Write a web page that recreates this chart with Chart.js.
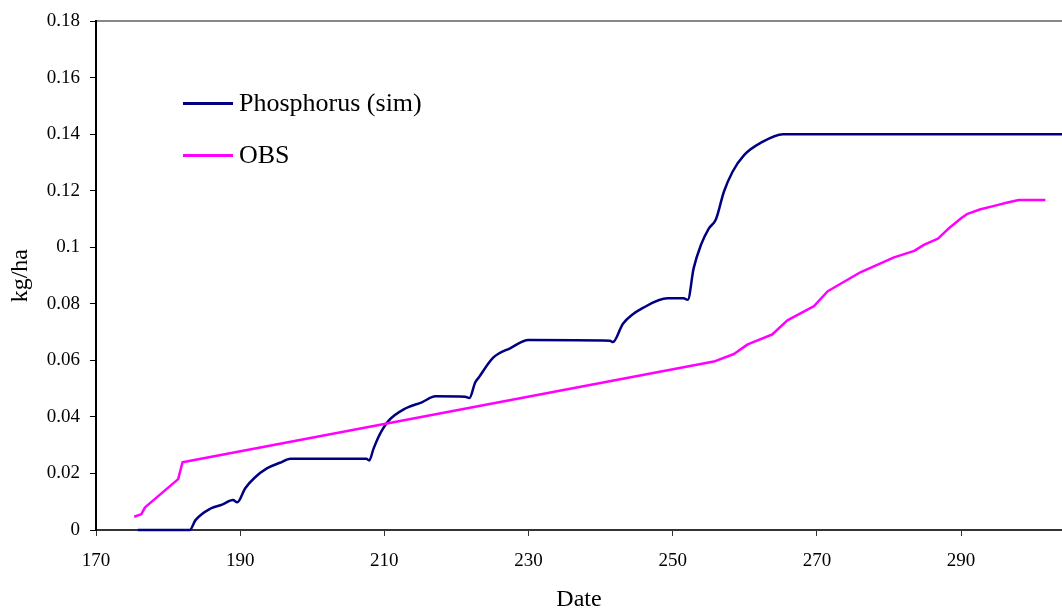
<!DOCTYPE html>
<html>
<head>
<meta charset="utf-8">
<script src="https://cdn.jsdelivr.net/npm/chart.js@4"></script>
<style>
  html, body { margin: 0; padding: 0; background: #fff; }
  #wrap { position: relative; width: 1062px; height: 609px; }
  #legend { position: absolute; left: 183px; top: 88px; font-family: "Liberation Serif", serif; font-size: 26px; color: #000; }
  .row { display: flex; align-items: center; height: 30px; margin-bottom: 22px; }
  .swatch { width: 50px; height: 3px; margin-right: 6px; }
</style>
</head>
<body>
<div id="wrap">
  <canvas id="chart" width="1062" height="609"></canvas>
  <div id="legend">
    <div class="row"><span class="swatch" style="background:#000080"></span>Phosphorus (sim)</div>
    <div class="row"><span class="swatch" style="background:#ff00ff"></span>OBS</div>
  </div>
</div>
<script>
// --- Data ---
const simDays = [175.8, 183.0, 183.8, 185.9, 187.5, 189.0, 189.6, 190.7, 192.0, 193.7, 195.5, 197.0,
  207.5, 207.9, 208.5, 209.4, 210.6, 212.9, 215.2, 217.1, 221.2, 221.8, 222.6, 223.1, 225.1, 227.5,
  230.0, 241.3, 241.7, 243.1, 246.3, 249.3, 251.5, 252.1, 252.9, 253.9, 255.0, 256.0, 257.1, 258.3,
  259.9, 262.2, 265.3, 304];
const simValues = [0, 0, 0.0035, 0.0076, 0.0090, 0.0106, 0.0098, 0.0148, 0.0185, 0.0218, 0.0238, 0.0252,
  0.0252, 0.0246, 0.0288, 0.034, 0.0387, 0.043, 0.0452, 0.0473, 0.0472, 0.0467, 0.0522, 0.054, 0.061, 0.0644,
  0.0672, 0.0670, 0.0665, 0.073, 0.0792, 0.082, 0.082, 0.0815, 0.0926, 0.1008, 0.1067, 0.110, 0.1197, 0.1268,
  0.1327, 0.137, 0.1401, 0.1401];

const obsDays = [175.3, 176.3, 176.8, 181.4, 182.0, 255.7, 258.5, 260.4, 263.8, 265.9, 269.6, 271.5,
  276.1, 280.7, 283.5, 284.9, 286.8, 288.4, 290.0, 290.9, 292.7, 294.6, 296.3, 298.0, 301.7];
const obsValues = [0.0047, 0.0056, 0.008, 0.018, 0.024, 0.0596, 0.0623, 0.0657, 0.0692, 0.0742, 0.0792, 0.0845,
  0.0913, 0.0965, 0.0988, 0.101, 0.1031, 0.107, 0.1103, 0.1119, 0.1135, 0.1147, 0.1158, 0.1168, 0.1168];

const xTicks = [170, 190, 210, 230, 250, 270, 290];
const yTicks = [0, 0.02, 0.04, 0.06, 0.08, 0.1, 0.12, 0.14, 0.16, 0.18];

const toPoints = (xs, ys) => xs.map((x, i) => ({ x, y: ys[i] }));
const serif = "'Liberation Serif', 'Times New Roman', serif";

new Chart(document.getElementById("chart"), {
  type: "line",
  data: {
    datasets: [
      {
        label: "OBS",
        data: toPoints(obsDays, obsValues),
        borderColor: "#ff00ff",
        borderWidth: 2.5,
        pointRadius: 0,
        tension: 0,
        borderJoinStyle: "round",
        clip: false
      },
      {
        label: "Phosphorus (sim)",
        data: toPoints(simDays, simValues),
        borderColor: "#000080",
        borderWidth: 2.5,
        pointRadius: 0,
        cubicInterpolationMode: "monotone",
        clip: false
      }
    ]
  },
  options: {
    responsive: false,
    animation: false,
    layout: { padding: { top: 19, right: 0, bottom: 0, left: 0 } },
    plugins: { legend: { display: false }, tooltip: { enabled: false } },
    scales: {
      x: {
        type: "linear",
        min: 170,
        max: 304,
        afterBuildTicks: s => { s.ticks = xTicks.map(v => ({ value: v })); },
        afterFit: s => { s.height = 79; },
        grid: { drawOnChartArea: false, tickLength: 6, color: "#333", lineWidth: 1 },
        border: { color: "#333", width: 2 },
        ticks: { color: "#000", font: { family: serif, size: 19 }, padding: 14, maxRotation: 0 },
        title: { display: true, text: "Date", color: "#000", font: { family: serif, size: 24, lineHeight: 0.8 }, padding: 0 }
      },
      xTop: {
        type: "linear",
        position: "top",
        min: 170,
        max: 304,
        afterFit: s => { s.height = 0; },
        grid: { display: false },
        border: { color: "#888", width: 2 },
        ticks: { display: false }
      },
      y: {
        min: 0,
        max: 0.18,
        afterBuildTicks: s => { s.ticks = yTicks.map(v => ({ value: v })); },
        afterFit: s => { s.width = 96; },
        grid: { drawOnChartArea: false, tickLength: 6, color: "#000", lineWidth: 1 },
        border: { color: "#000", width: 2 },
        ticks: {
          color: "#000",
          font: { family: serif, size: 19 },
          padding: 10,
          callback: v => String(Math.round(v * 100) / 100)
        },
        title: { display: true, text: "kg/ha", color: "#000", font: { family: serif, size: 24, lineHeight: 1 }, padding: { top: 9, bottom: 0 } }
      }
    }
  }
});
</script>
</body>
</html>
